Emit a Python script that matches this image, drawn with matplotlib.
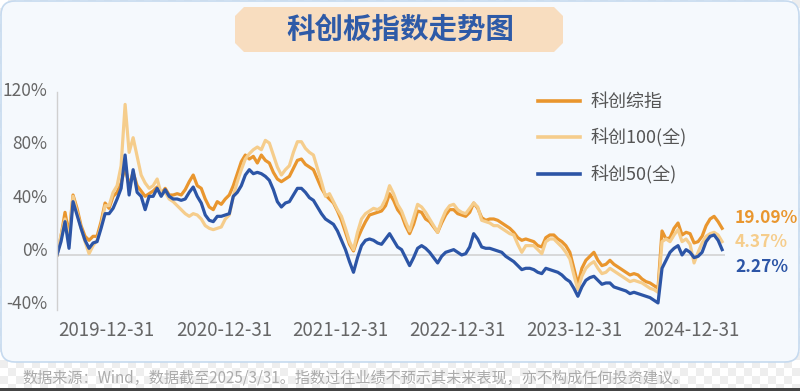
import numpy as np
import pandas as pd
import matplotlib
matplotlib.use('Agg')
import matplotlib.pyplot as plt
import matplotlib.transforms as mtransforms
from matplotlib.colors import ListedColormap
from matplotlib.patches import Polygon, FancyBboxPatch, Rectangle

plt.rcParams['font.family'] = ['Noto Sans CJK SC', 'DejaVu Sans']

# sampling dates: first and last trading day, evenly spaced samples
start_date = '2019-07-22'
end_date = '2025-03-31'
n_points = 167

# cumulative return (%)
composite = [
    0, 14, 32, 15, 45, 35, 22, 14, 11, 14,
    14, 25, 39, 35, 44, 47, 54, 66, 52, 62,
    52, 48, 44, 46, 48, 51, 46, 50, 45, 45,
    46, 45, 49, 55, 60, 52, 50, 42, 36, 34,
    40, 38, 42, 45, 52, 61, 70, 75, 72, 74,
    69, 75, 71, 69, 62, 57, 55, 57, 59, 65,
    71, 72, 68, 66, 64, 57, 50, 45, 42, 39,
    33, 26, 17, 8, 3, 12, 19, 25, 30, 31,
    32, 33, 37, 46, 41, 34, 30, 22, 16, 23,
    33, 32, 27, 25, 21, 17, 24, 30, 34, 34,
    31, 30, 29, 32, 39, 35, 28, 26, 27, 27,
    26, 24, 22, 20, 17, 13, 11, 12, 11, 10,
    7, 6, 13, 15, 15, 12, 10, 7, 2, -10,
    -22, -10, -4, -1, 2, -4, -8, -7, -4, -7,
    -9, -11, -13, -15, -14, -15, -18, -20, -21, -23,
    -25, 18, 12, 13, 20, 24, 15, 17, 16, 9,
    10, 14, 22, 27, 29, 25, 20,
]
star100 = [
    0, 15, 27, 10, 44, 32, 20, 10, 1, 7,
    11, 22, 37, 37, 47, 52, 67, 113, 77, 88,
    74, 60, 54, 50, 52, 57, 46, 47, 42, 40,
    37, 34, 31, 29, 31, 30, 27, 22, 20, 19,
    20, 21, 27, 30, 44, 55, 64, 72, 76, 79,
    81, 79, 86, 84, 75, 66, 60, 64, 67, 77,
    85, 85, 80, 77, 75, 65, 55, 44, 46, 40,
    34, 29, 20, 10, 4, 17, 27, 31, 33, 35,
    34, 36, 42, 52, 46, 38, 33, 25, 18, 28,
    38, 36, 32, 27, 22, 17, 26, 33, 37, 38,
    34, 32, 31, 35, 39, 36, 26, 25, 24, 22,
    22, 20, 18, 16, 15, 8, 2, 7, 7, 7,
    4, 1, 10, 12, 12, 9, 6, 2, -3, -15,
    -26, -16, -10, -7, -5, -10, -14, -13, -10, -12,
    -14, -16, -18, -20, -19, -20, -21, -23, -25, -26,
    -28, 10, 12, 10, 15, 19, 10, 12, 8, -6,
    2, 9, 14, 16, 17, 15, 10,
]
star50 = [
    0, 10, 25, 5, 40, 30, 20, 11, 5, 9,
    10, 20, 31, 31, 35, 42, 50, 75, 45, 64,
    47, 44, 34, 44, 44, 50, 44, 49, 44, 42,
    42, 41, 42, 47, 51, 44, 39, 30, 26, 25,
    29, 29, 30, 31, 44, 47, 52, 60, 64, 61,
    62, 61, 59, 56, 49, 40, 36, 39, 40, 45,
    50, 50, 47, 43, 41, 36, 31, 27, 25, 23,
    18, 11, 4, -5, -13, -2, 7, 11, 12, 11,
    9, 8, 12, 16, 11, 6, 4, -2, -8, -2,
    5, 7, 5, 2, -2, -6, -1, 2, 3, 4,
    2, 0, 1, 6, 16, 12, 6, 5, 5, 4,
    3, 2, -1, -3, -5, -8, -11, -10, -10, -11,
    -13, -14, -10, -11, -12, -13, -15, -18, -20, -25,
    -31, -24, -19, -17, -16, -19, -22, -21, -21, -24,
    -25, -26, -27, -29, -28, -29, -30, -31, -32, -34,
    -36, -10, -4, 2, 5, 7, 0, 4, 2, -2,
    -1, 2, 10, 14, 15, 11, 4,
]

series_names = ['科创综指', '科创100(全)', '科创50(全)']
series_colors = ['#E9962E', '#F5CD8C', '#2C55A6']
end_labels = ['19.09%', '4.37%', '2.27%']
tick_dates = ['2019-12-31', '2020-12-31', '2021-12-31', '2022-12-31', '2023-12-31', '2024-12-31']
y_ticks = [-40, 0, 40, 80, 120]

dates = pd.date_range(start_date, end_date, periods=n_points)

W, H = 800, 391
fig = plt.figure(figsize=(W / 100, H / 100), dpi=100)

# background layer in pixel coordinates (checker, card, title box, footer)
bg = fig.add_axes([0, 0, 1, 1], zorder=-10)
bg.set_xlim(0, W)
bg.set_ylim(H, 0)
bg.axis('off')
checker = np.indices((49, 100)).sum(axis=0) % 2
bg.imshow(checker, cmap=ListedColormap(['#ffffff', '#eeeeee']), extent=[0, 800, 392, 0], aspect='auto')
bg.add_patch(FancyBboxPatch((1, 1), 798, 361, boxstyle='round,pad=0,rounding_size=14',
                            fc='#F5F9FD', ec='#C6DAEF', lw=1.2))
bg.add_patch(Rectangle((0, 388), W, 3, color='#444444', lw=0))

x0, x1, y0, y1, c = 235, 563, 7, 52, 9
bg.add_patch(Polygon([(x0 + c, y0), (x1 - c, y0), (x1, y0 + c), (x1, y1 - c), (x1 - c, y1),
                      (x0 + c, y1), (x0, y1 - c), (x0, y0 + c)], closed=True, fc='#F8DDBF', ec='none'))
bg.text(400, 30, '科创板指数走势图', ha='center', va='center', fontsize=20.5,
        fontweight='bold', color='#2E5AA7')
bg.text(22, 378, '数据来源：Wind，数据截至2025/3/31。指数过往业绩不预示其未来表现，亦不构成任何投资建议。',
        ha='left', va='center', fontsize=10.9, color='#ABABAB')

# main chart
ax = fig.add_axes([57 / W, 1 - 310 / H, (725 - 57) / W, (310 - 92) / H])
ax.set_facecolor('none')
for vals, name, col in zip([composite, star100, star50], series_names, series_colors):
    ax.plot(dates, vals, color=col, lw=2.3, label=name)

ax.axhline(0, color='#D3D3D3', lw=1.2, zorder=0)
ax.set_xlim(dates[0], dates[-1] + pd.Timedelta(days=9))
ax.set_ylim(-41.3, 122.3)

for side in ['top', 'right', 'bottom']:
    ax.spines[side].set_visible(False)
ax.spines['left'].set_color('#D0D0D0')
ax.spines['left'].set_linewidth(1.0)

ax.set_yticks(y_ticks)
ax.set_yticklabels([f'{v}%' for v in y_ticks])
ax.set_xticks(pd.to_datetime(tick_dates))
ax.set_xticklabels(tick_dates)
ax.tick_params(axis='both', length=0, labelcolor='#666666')
ax.tick_params(axis='y', pad=7, labelsize=12.5)
ax.tick_params(axis='x', pad=7, labelsize=13.5)
shift = mtransforms.ScaledTranslation(0, 0.06, fig.dpi_scale_trans)
for lab in ax.get_yticklabels():
    lab.set_transform(lab.get_transform() + shift)
xshift = mtransforms.ScaledTranslation(-0.02, 0, fig.dpi_scale_trans)
for lab in ax.get_xticklabels():
    lab.set_transform(lab.get_transform() + xshift)

leg = ax.legend(loc='upper left', bbox_to_anchor=(538 / W, 1 - 93 / H), bbox_transform=fig.transFigure,
                frameon=False, fontsize=13, handlelength=2.3, handletextpad=0.6,
                labelspacing=0.98, borderpad=0, borderaxespad=0)
for t in leg.get_texts():
    t.set_color('#555555')
for h in leg.get_lines():
    h.set_linewidth(2.6)

# end-of-line value labels
for vals, lab, col, dy in zip([composite, star100, star50], end_labels, series_colors, [10, 0, -17]):
    ax.annotate(lab, xy=(dates[-1], vals[-1]), xytext=(13, dy), textcoords='offset pixels',
                ha='left', va='center', fontsize=12.5, fontweight='bold', color=col,
                annotation_clip=False)

fig.savefig('out.png', dpi=100)
